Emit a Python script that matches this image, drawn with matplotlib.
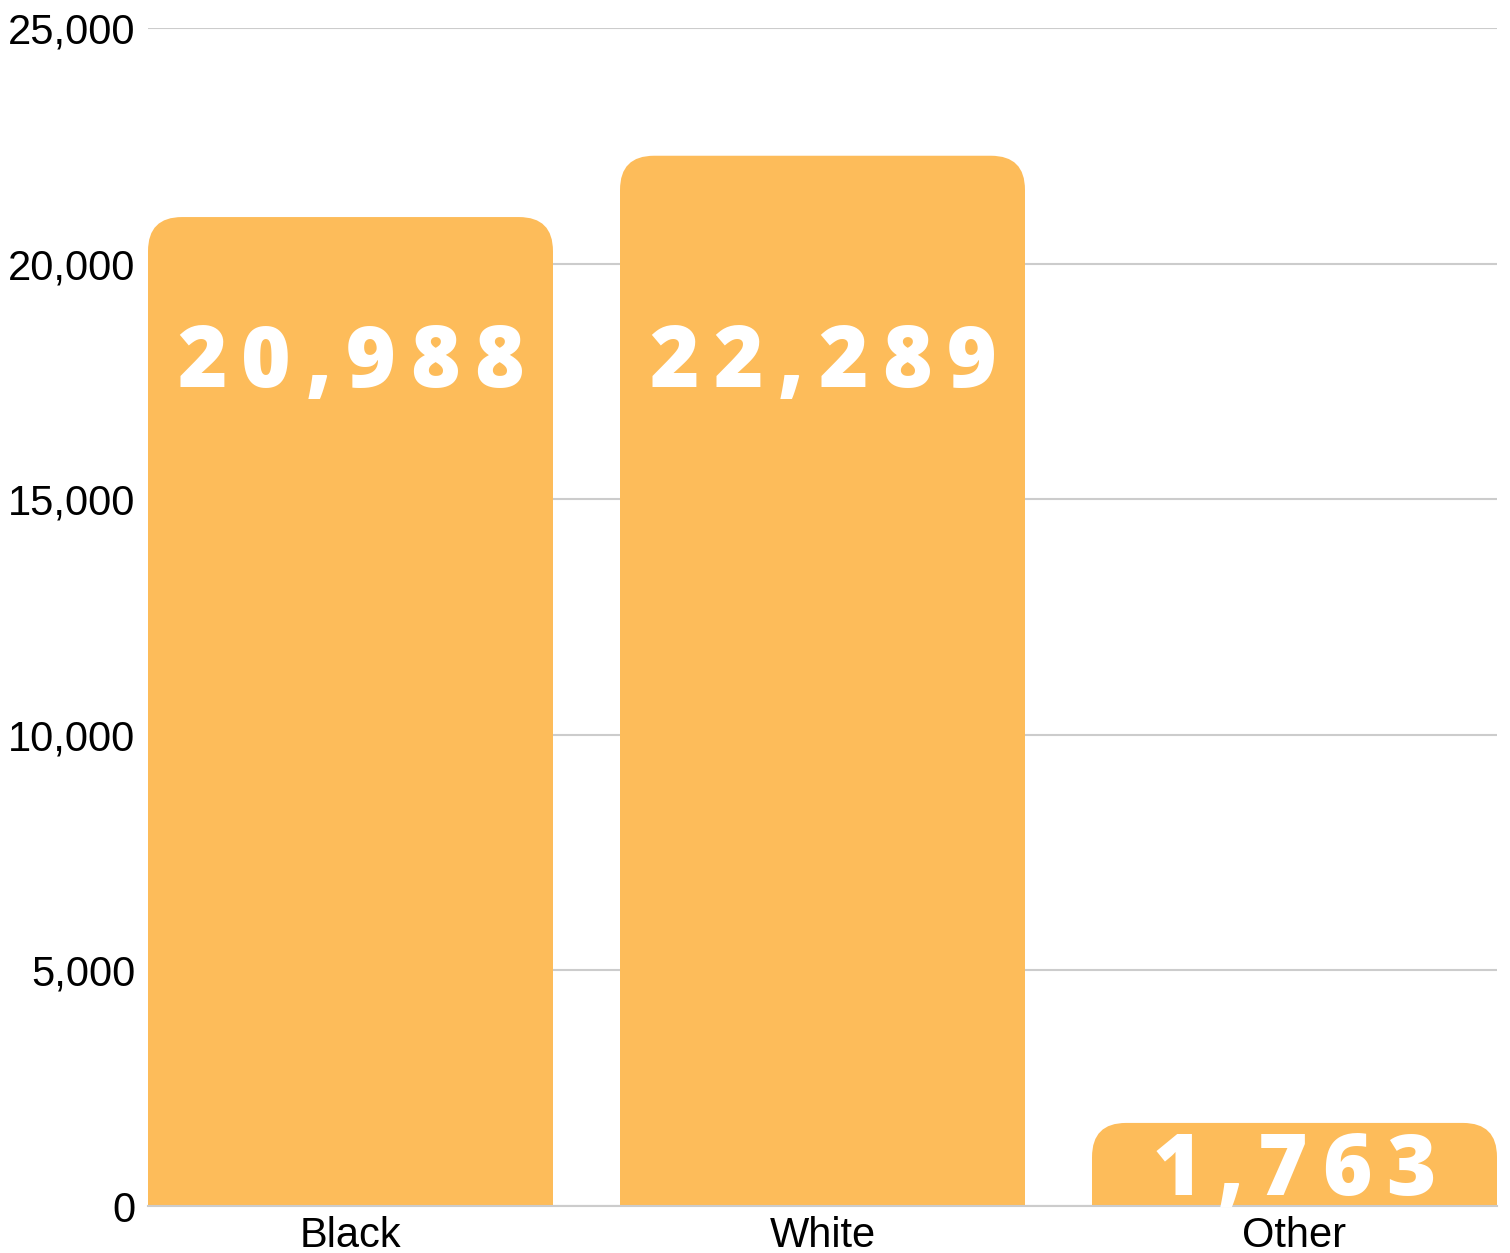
import numpy as np
import matplotlib
matplotlib.use('Agg')
from matplotlib import pyplot as plt
from matplotlib.patches import FancyBboxPatch, Rectangle
from matplotlib.font_manager import FontProperties
from matplotlib.textpath import TextToPath

# data
categories = ['Black', 'White', 'Other']
values = [20988, 22289, 1763]
value_labels = ['20,988', '22,289', '1,763']
yticks = [0, 5000, 10000, 15000, 20000, 25000]
ytick_labels = ['0', '5,000', '10,000', '15,000', '20,000', '25,000']

bar_color = '#FDBC5A'
grid_color = '#CCCCCC'

fig = plt.figure(figsize=(15.1, 12.53), dpi=100)
ax = fig.add_axes([148 / 1510, 1 - 1206 / 1253, (1497 - 148) / 1510, (1206 - 28) / 1253])

x = np.arange(len(categories))
width = 0.858
ax.set_xlim(-0.429, 2.429)
ax.set_ylim(0, 25000)

# px -> data conversion for rounded corners
ax_w_px = 1497 - 148
ax_h_px = 1206 - 28
x_per_px = (2.429 + 0.429) / ax_w_px
y_per_px = 25000 / ax_h_px
r_px = 34
r_x = r_px * x_per_px
aspect = y_per_px / x_per_px
r_y = r_x * aspect

for xi, v in zip(x, values):
    x0 = xi - width / 2
    # rounded box (all corners), then square off the bottom with a rectangle
    top = FancyBboxPatch((x0 + r_x, r_y), width - 2 * r_x, v - 2 * r_y,
                         boxstyle='round,pad=%f,rounding_size=%f' % (r_x, r_x),
                         mutation_aspect=aspect, fc=bar_color, ec='none', zorder=3)
    ax.add_patch(top)
    ax.add_patch(Rectangle((x0, 0), width, v - r_y, fc=bar_color, ec='none', zorder=3))

# value labels with letter spacing
fp = FontProperties(family=['Open Sans', 'DejaVu Sans'], weight=800, size=61)
ttp = TextToPath()
spacing = 10.5  # extra points between characters
for xi, v, lab in zip(x, values, value_labels):
    widths = [ttp.get_text_width_height_descent(ch, fp, ismath=False)[0] for ch in lab]
    total = sum(widths) + spacing * (len(lab) - 1)
    ylab = min(17380, v - 1530)
    pos = -total / 2
    for ch, w in zip(lab, widths):
        ax.annotate(ch, (xi, ylab), xytext=(pos, 0), textcoords='offset points',
                    ha='left', va='baseline', color='white', fontproperties=fp, zorder=5)
        pos += w + spacing

ax.set_yticks(yticks)
ax.set_yticklabels(ytick_labels)
ax.set_xticks(x)
ax.set_xticklabels(categories)
ax.tick_params(axis='both', length=0, labelsize=30, colors='black')
ax.tick_params(axis='y', pad=9)
ax.tick_params(axis='x', pad=7)
for lab in ax.get_xticklabels() + ax.get_yticklabels():
    lab.set_fontfamily(['Liberation Sans', 'DejaVu Sans'])

ax.grid(axis='y', color=grid_color, linewidth=1.5, zorder=0)
ax.set_axisbelow(True)
for s in ['top', 'right', 'left']:
    ax.spines[s].set_visible(False)
ax.spines['bottom'].set_color(grid_color)
ax.spines['bottom'].set_linewidth(1.5)
ax.spines['bottom'].set_zorder(4)

fig.savefig('out.png', dpi=100)
